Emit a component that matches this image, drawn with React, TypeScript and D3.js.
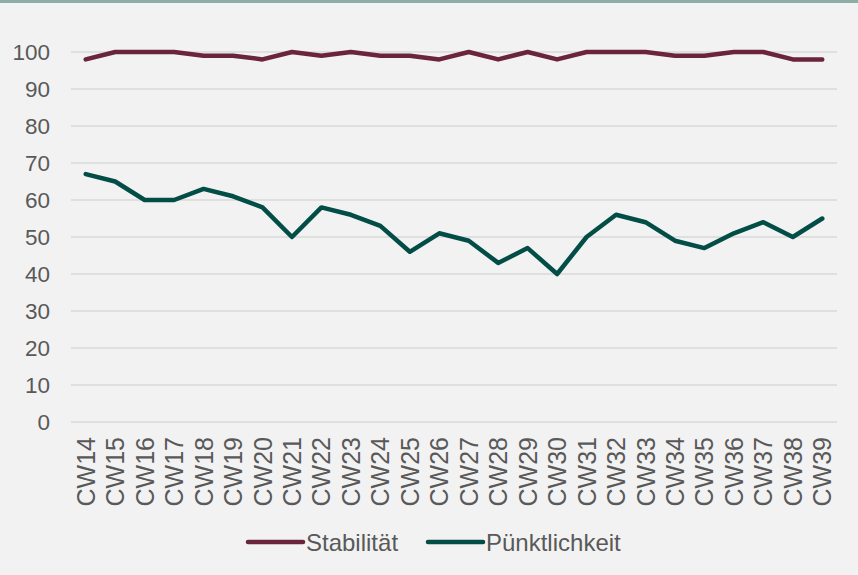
import React, { useEffect, useRef } from 'react';
import * as d3 from 'd3';

const weeks = [
  'CW14', 'CW15', 'CW16', 'CW17', 'CW18', 'CW19', 'CW20', 'CW21', 'CW22',
  'CW23', 'CW24', 'CW25', 'CW26', 'CW27', 'CW28', 'CW29', 'CW30', 'CW31',
  'CW32', 'CW33', 'CW34', 'CW35', 'CW36', 'CW37', 'CW38', 'CW39',
];

const stabilitaet = [
  98, 100, 100, 100, 99, 99, 98, 100, 99, 100, 99, 99, 98, 100, 98, 100,
  98, 100, 100, 100, 99, 99, 100, 100, 98, 98,
];

const puenktlichkeit = [
  67, 65, 60, 60, 63, 61, 58, 50, 58, 56, 53, 46, 51, 49, 43, 47, 40, 50,
  56, 54, 49, 47, 51, 54, 50, 55,
];

const yTicks = [0, 10, 20, 30, 40, 50, 60, 70, 80, 90, 100];

const series = [
  { name: 'Stabilität', values: stabilitaet, color: '#6a243b' },
  { name: 'Pünktlichkeit', values: puenktlichkeit, color: '#024d46' },
];

export default function App() {
  const svgRef = useRef<SVGSVGElement>(null);

  useEffect(() => {
    if (!svgRef.current) return;
    const svg = d3.select(svgRef.current);
    svg.selectAll('*').remove();

    const W = 858;
    const H = 575;
    const font = '"Liberation Sans", Arial, sans-serif';
    const textColor = '#595959';

    svg.append('rect').attr('width', W).attr('height', H).attr('fill', '#f2f2f2');
    svg.append('rect').attr('width', W).attr('height', 3).attr('fill', '#8fada7');

    const x = d3.scaleBand<string>().domain(weeks).range([71, 837]);
    const y = d3.scaleLinear().domain([0, 100]).range([422, 52]);

    // gridlines
    svg
      .append('g')
      .selectAll('line')
      .data(yTicks)
      .enter()
      .append('line')
      .attr('x1', 71)
      .attr('x2', 837)
      .attr('y1', d => y(d))
      .attr('y2', d => y(d))
      .attr('stroke', '#d9d9d9')
      .attr('stroke-width', 1.3);

    // y tick labels
    svg
      .append('g')
      .selectAll('text')
      .data(yTicks)
      .enter()
      .append('text')
      .attr('x', 50)
      .attr('y', d => y(d))
      .attr('dy', '0.36em')
      .attr('text-anchor', 'end')
      .attr('font-family', font)
      .attr('font-size', 22.5)
      .attr('fill', textColor)
      .text(d => d);

    // x tick labels, rotated
    svg
      .append('g')
      .selectAll('text')
      .data(weeks)
      .enter()
      .append('text')
      .attr('transform', d => `translate(${x(d)! + x.bandwidth() / 2 + 9},437) rotate(-90)`)
      .attr('text-anchor', 'end')
      .attr('font-family', font)
      .attr('font-size', 25)
      .attr('fill', textColor)
      .text(d => d);

    const line = d3
      .line<number>()
      .x((_, i) => x(weeks[i])! + x.bandwidth() / 2)
      .y(d => y(d));

    series.forEach(s => {
      svg
        .append('path')
        .datum(s.values)
        .attr('fill', 'none')
        .attr('stroke', s.color)
        .attr('stroke-width', 4.5)
        .attr('stroke-linejoin', 'round')
        .attr('stroke-linecap', 'round')
        .attr('d', line);
    });

    // legend
    const legendX = [248, 428];
    series.forEach((s, i) => {
      const g = svg.append('g').attr('transform', `translate(${legendX[i]},542)`);
      g.append('line')
        .attr('x1', 0)
        .attr('x2', 55)
        .attr('stroke', s.color)
        .attr('stroke-width', 4.5)
        .attr('stroke-linecap', 'round');
      g.append('text')
        .attr('x', 58)
        .attr('y', 9)
        .attr('font-family', font)
        .attr('font-size', 24)
        .attr('fill', textColor)
        .text(s.name);
    });
  }, []);

  return (
    <div style={{ position: 'absolute', left: 0, top: 0 }}>
      <svg ref={svgRef} width={858} height={575} style={{ display: 'block' }} />
    </div>
  );
}
